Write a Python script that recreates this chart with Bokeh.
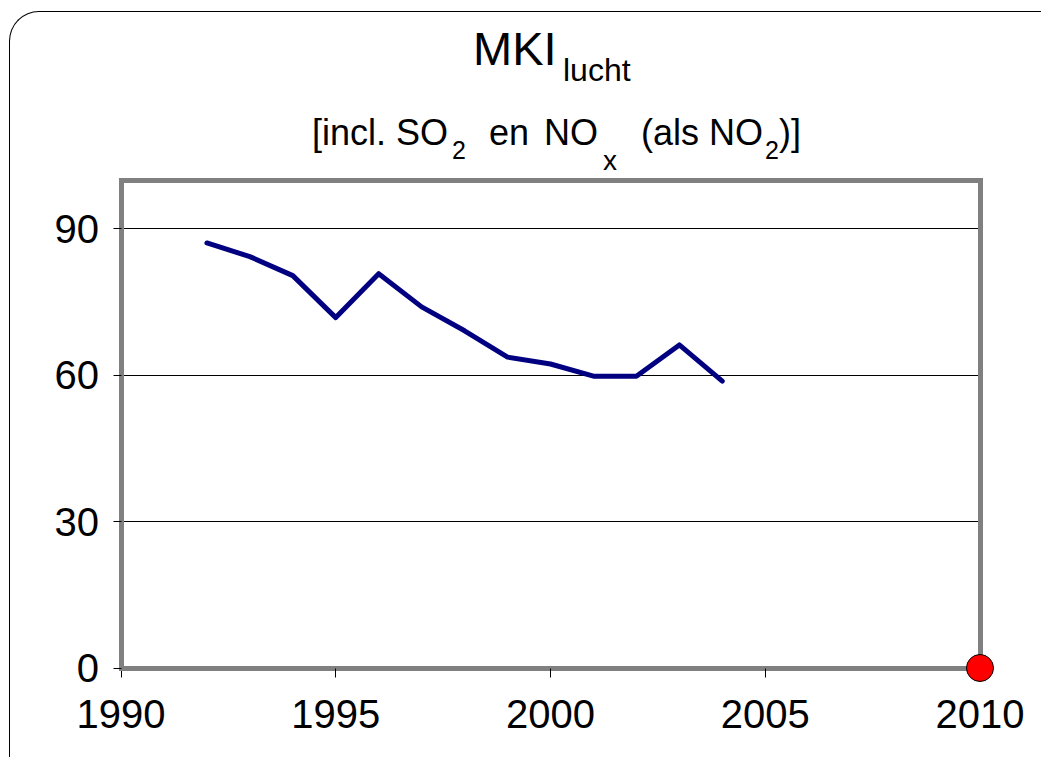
from bokeh.plotting import figure
from bokeh.models import Range1d, FixedTicker, LinearAxis, Label, Grid
from bokeh.embed import file_html
from bokeh.resources import INLINE

# ---------------- data ----------------
years = [1992, 1993, 1994, 1995, 1996, 1997, 1998, 1999, 2000, 2001, 2002, 2003, 2004]
mki_lucht = [87.1, 84.3, 80.4, 71.8, 80.8, 74.0, 69.1, 63.7, 62.3, 59.8, 59.8, 66.2, 58.8]
target_year = [2010]
target_value = [0]
x_ticks = [1990, 1995, 2000, 2005, 2010]
y_ticks = [0, 30, 60, 90]
y_max = 100

# title pieces: (text, font size px, left edge px, baseline px) in page pixels
title_parts = [
    ("MKI", 47, 473, 67),
    ("lucht", 32, 563, 83),
    ("[incl. SO", 36, 312, 147),
    ("2", 25, 452, 160),
    ("en", 36, 489, 147),
    ("NO", 36, 544, 147),
    ("x", 28, 603, 172),
    ("(als NO", 36, 641, 147),
    ("2", 25, 765, 160),
    (")]", 36, 779, 147),
]

FONT = "Liberation Sans"
GRAY = "#808080"

x_start, x_end = x_ticks[0], x_ticks[-1]

# ---------------- layout (page pixels) ----------------
MARGIN_L, MARGIN_T, BORDER = 9, 11, 1.5
W, H = 1032, 746
OX, OY = MARGIN_L + BORDER, MARGIN_T + BORDER          # canvas origin on page
BOX_L, BOX_R, BOX_T, BOX_B = 121, 980, 180, 668          # plot box on page
ppx = (BOX_R - BOX_L) / (x_end - x_start)
ppy = (BOX_B - BOX_T) / y_max

x_lo = x_start - (BOX_L - OX) / ppx
x_hi = x_end + (OX + W - BOX_R) / ppx
y_lo = 0 - (OY + H - BOX_B) / ppy
y_hi = y_max + (BOX_T - OY) / ppy

p = figure(
    width=W, height=H,
    output_backend="svg", toolbar_location=None,
    x_range=Range1d(x_lo, x_hi), y_range=Range1d(y_lo, y_hi),
    min_border=0, min_border_left=0, min_border_right=0,
    min_border_top=0, min_border_bottom=0,
    outline_line_color=None,
    background_fill_color=None,
    border_fill_color=None,
)
p.styles = {
    "border-top": f"{BORDER}px solid #000000",
    "border-left": f"{BORDER}px solid #000000",
    "border-top-left-radius": "30px",
    "margin-left": f"{MARGIN_L}px",
    "margin-top": f"{MARGIN_T}px",
}


def box_axis(ax, ticks, loc, bounds):
    ax.ticker = FixedTicker(ticks=ticks)
    ax.fixed_location = loc
    ax.bounds = bounds
    ax.axis_line_color = GRAY
    ax.axis_line_width = 5
    ax.axis_line_cap = "square"
    ax.major_tick_line_color = "black"
    ax.major_tick_line_width = 1
    ax.major_tick_in = 0
    ax.minor_tick_line_color = None
    ax.major_label_text_font = FONT
    ax.major_label_text_font_size = "40px"
    ax.major_label_text_color = "black"


xa = p.xaxis[0]
box_axis(xa, x_ticks, 0, (x_start, x_end))
xa.major_tick_out = 9
xa.major_label_standoff = 23

ya = p.yaxis[0]
box_axis(ya, y_ticks, x_start, (0, y_max))
ya.major_tick_out = 8
ya.major_label_standoff = 14

top_axis = LinearAxis()
box_axis(top_axis, [], y_max, (x_start, x_end))
top_axis.major_tick_line_color = None
top_axis.major_label_text_color = None
p.add_layout(top_axis, "above")

right_axis = LinearAxis()
box_axis(right_axis, [], x_end, (0, y_max))
right_axis.major_tick_line_color = None
right_axis.major_label_text_color = None
p.add_layout(right_axis, "right")

# ---------- grid ----------
p.xgrid.visible = False
p.ygrid.ticker = FixedTicker(ticks=[t for t in y_ticks if t > 0])
p.ygrid.grid_line_color = "black"
p.ygrid.grid_line_width = 1
if "cross_bounds" in Grid.properties():
    p.ygrid.cross_bounds = (x_start, x_end)

# ---------- data marks ----------
p.line(years, mki_lucht, line_color="#000080", line_width=5,
       line_join="round", line_cap="round")
dot = p.scatter(target_year, target_value, size=27, fill_color="#FF0000",
                line_color="black", line_width=1)
dot.level = "overlay"

# ---------- title ----------
for text, size, left, base in title_parts:
    p.add_layout(Label(
        x=x_start, y=y_max, x_units="data", y_units="data",
        x_offset=left - BOX_L, y_offset=BOX_T - base + 0.4 * size,
        text=text, text_font=FONT, text_font_size=f"{size}px",
        text_color="black", text_align="left", text_baseline="alphabetic",
    ))

open("out.html", "w").write(file_html(p, INLINE))
